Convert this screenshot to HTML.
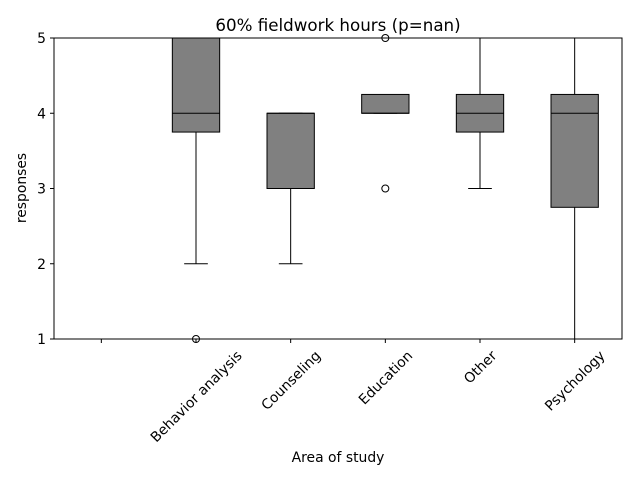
<!DOCTYPE html>
<html><head><meta charset="utf-8"><style>
body{margin:0;background:#fff;}
svg text{font-family:"DejaVu Sans","Liberation Sans",sans-serif;}
</style></head><body>
<svg id="chart" width="640" height="480" xmlns="http://www.w3.org/2000/svg">
<rect width="640" height="480" fill="#fff"/>
<text x="338" y="31" font-size="16.7" text-anchor="middle">60% fieldwork hours (p=nan)</text>
<g id="plot"></g>
<rect x="54" y="38" width="568" height="301" fill="none" stroke="#000" stroke-width="1"/>
<text x="338" y="462" font-size="13.9" text-anchor="middle">Area of study</text>
<text transform="translate(26,188) rotate(-90)" font-size="13.9" text-anchor="middle">responses</text>
</svg>
<script>
const categories = ["", "Behavior analysis", "Counseling", "Education", "Other", "Psychology"];
const q1 = [null, 3.75, 3, 4, 3.75, 2.75];
const medians = [null, 4, 4, 4, 4, 4];
const q3 = [null, 5, 4, 4.25, 4.25, 4.25];
const whiskLow = [null, 2, 2, 4, 3, 1];
const whiskHigh = [null, 5, 4, 4.25, 5, 5];
const outliers = [[], [1], [], [5, 3], [], []];
const yTicks = [1, 2, 3, 4, 5];

const L=54,R=622,T=38,B=339,ymin=1,ymax=5;
const n=categories.length, step=(R-L)/n;
const xs=i=>L+step*(i+0.5);
const ys=v=>B-(v-ymin)/(ymax-ymin)*(B-T);
const g=document.getElementById('plot');
const NS="http://www.w3.org/2000/svg";
function mk(tag,attrs,parent){const e=document.createElementNS(NS,tag);for(const k in attrs)e.setAttribute(k,attrs[k]);(parent||g).appendChild(e);return e;}

yTicks.forEach(v=>{
  const t=mk('line',{x1:L-4,x2:L,y1:ys(v),y2:ys(v),stroke:'#000'});
  
  
  const lb=mk('text',{x:L-8,y:ys(v)+5,'font-size':13.9,'text-anchor':'end'});
  lb.textContent=v;
  
  
});
categories.forEach((c,i)=>{
  const x=xs(i);
  const t=mk('line',{x1:x,x2:x,y1:B,y2:B+4,stroke:'#000'});
  
  
  const lb=mk('text',{'font-size':13.9,'text-anchor':'middle'});
  lb.textContent=c;
  
  
  const w=c?lb.getComputedTextLength():0;
  const h=(w+14)*Math.SQRT1_2;
  const cy=B+9+h/2;
  lb.setAttribute('transform',`translate(${x},${cy}) rotate(-45) translate(0,5)`);
  if(q1[i]===null) return;
  const bw=step*0.5, cw=bw*0.5;
  const grp=mk('g',{});
  
  
  mk('line',{x1:x,x2:x,y1:ys(q1[i]),y2:ys(whiskLow[i]),stroke:'#000'},grp);
  mk('line',{x1:x,x2:x,y1:ys(q3[i]),y2:ys(whiskHigh[i]),stroke:'#000'},grp);
  mk('line',{x1:x-cw/2,x2:x+cw/2,y1:ys(whiskLow[i]),y2:ys(whiskLow[i]),stroke:'#000'},grp);
  mk('line',{x1:x-cw/2,x2:x+cw/2,y1:ys(whiskHigh[i]),y2:ys(whiskHigh[i]),stroke:'#000'},grp);
  mk('rect',{x:x-bw/2,y:ys(q3[i]),width:bw,height:Math.max(ys(q1[i])-ys(q3[i]),0.5),fill:'#808080',stroke:'#000'},grp);
  mk('line',{x1:x-bw/2,x2:x+bw/2,y1:ys(medians[i]),y2:ys(medians[i]),stroke:'#000'},grp);
  outliers[i].forEach(o=>{
    const c2=mk('circle',{cx:x,cy:ys(o),r:3.5,fill:'none',stroke:'#000'},grp);
    
    
  });
});
</script>
</body></html>
